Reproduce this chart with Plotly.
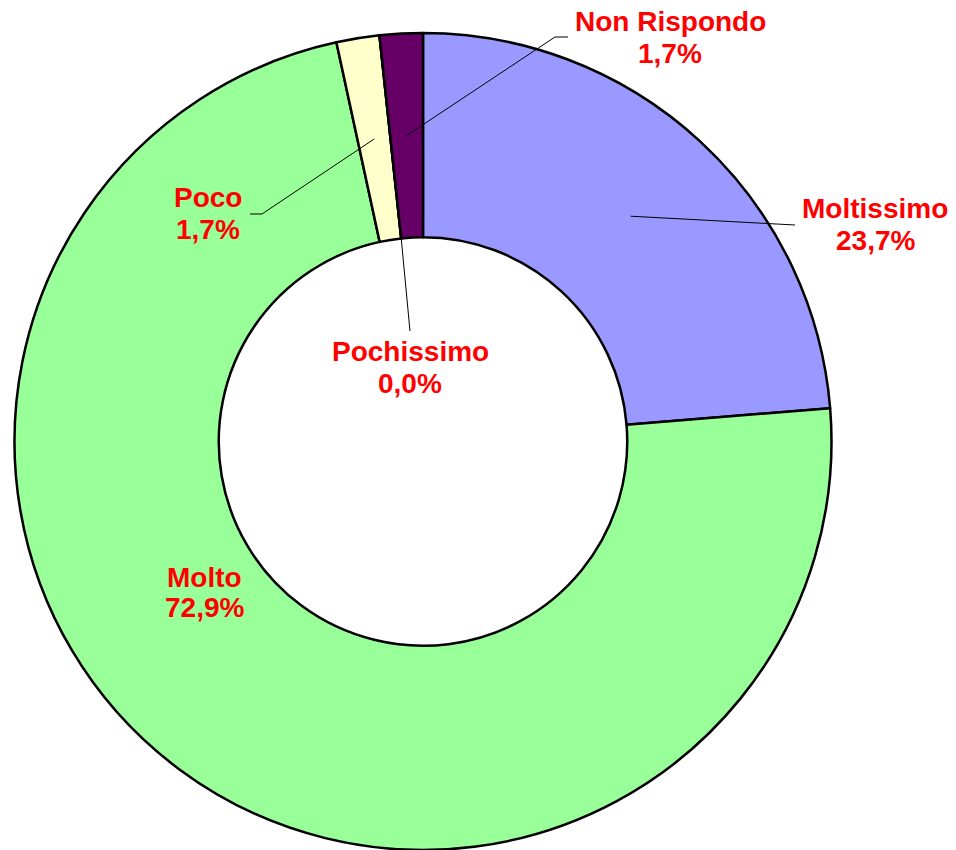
import math
import plotly.graph_objects as go

# ---- data ----
categories = ["Moltissimo", "Molto", "Poco", "Pochissimo", "Non Rispondo"]
values = [23.7, 72.9, 1.7, 0.0, 1.7]
colors = ["#9999FF", "#99FF99", "#FFFFCC", "#FF8080", "#660066"]

# ---- layout geometry (pixels) ----
W, H = 956, 850
dom_x = [13 / W, 833 / W]
dom_y = [0.0, 1 - 33 / H]
R = min((dom_x[1] - dom_x[0]) * W, (dom_y[1] - dom_y[0]) * H) / 2
CX = (dom_x[0] + dom_x[1]) / 2 * W
CY = H - (dom_y[0] + dom_y[1]) / 2 * H
HOLE = 0.5

# label placement (pixel centres of the two text lines) and leader-line waypoints
label_pos = {
    "Moltissimo": dict(x=875, y1=208, y2=241, line=[(795, 225)], rfrac=0.75),
    "Molto": dict(x=204, y1=577, y2=607, line=None, rfrac=0.75),
    "Poco": dict(x=208, y1=198, y2=230, line=[(262, 214), (250, 214)], rfrac=0.75),
    "Pochissimo": dict(x=410, y1=352, y2=383, line=[(410, 331)], rfrac=0.5),
    "Non Rispondo": dict(x=670, y1=22, y2=53, line=[(555, 37), (568, 37)], rfrac=0.75),
}

fig = go.Figure(
    go.Pie(
        labels=categories,
        values=values,
        hole=HOLE,
        sort=False,
        direction="clockwise",
        rotation=0,
        textinfo="none",
        hoverinfo="label+percent",
        marker=dict(colors=colors, line=dict(color="black", width=2.5)),
        domain=dict(x=dom_x, y=dom_y),
        showlegend=False,
    )
)

def px2paper(x, y):
    return x / W, 1 - y / H

total = sum(values)
cum = 0.0
annotations = []
shapes = []
font = dict(family="Arial, Liberation Sans, sans-serif", size=28, color="#FF0000")
for cat, v in zip(categories, values):
    mid = (cum + v / 2) / total
    cum += v
    p = label_pos[cat]
    pct = f"{v:.1f}%".replace(".", ",")
    for txt, yy in ((cat, p["y1"]), (pct, p["y2"])):
        ax_, ay_ = px2paper(p["x"], yy)
        annotations.append(dict(
            text=f"<b>{txt}</b>", x=ax_, y=ay_, xref="paper", yref="paper",
            xanchor="center", yanchor="middle", showarrow=False, font=font,
        ))
    if p["line"]:
        ang = 2 * math.pi * mid
        r = p["rfrac"] * R
        pts = [(CX + r * math.sin(ang), CY - r * math.cos(ang))] + p["line"]
        path = "M " + " L ".join(
            f"{px2paper(x, y)[0]:.5f},{px2paper(x, y)[1]:.5f}" for x, y in pts
        )
        shapes.append(dict(type="path", path=path, xref="paper", yref="paper",
                           line=dict(color="black", width=1)))

fig.update_layout(
    width=W, height=H,
    margin=dict(l=0, r=0, t=0, b=0),
    paper_bgcolor="white",
    plot_bgcolor="white",
    annotations=annotations,
    shapes=shapes,
)

fig.write_html(
    "out.html",
    config={"displayModeBar": False},
    post_script="document.body.style.margin='0';document.body.style.overflow='hidden';",
)
